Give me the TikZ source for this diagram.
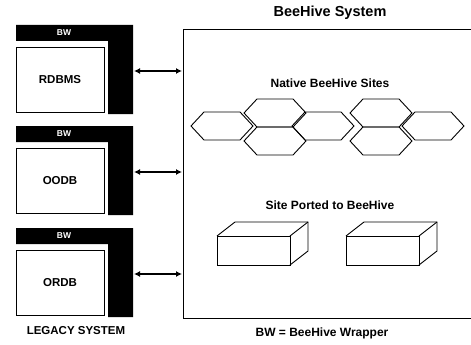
\documentclass[tikz,border=0pt]{standalone}
\usepackage{fontspec}
\setsansfont{Liberation Sans}
\usepackage{tikz}
\usetikzlibrary{calc}
\usetikzlibrary{arrows.meta}

\tikzset{
  lbl/.style={font=\sffamily\bfseries\fontsize{11.5}{13}\selectfont},
  bwlbl/.style={font=\sffamily\bfseries\fontsize{8.5}{10}\selectfont, text=white},
  dbbox/.style={draw, fill=white, line width=0.9pt},
  site/.style={draw, line width=0.9pt},
  link/.style={{Latex[length=6pt,width=6pt]}-{Latex[length=6pt,width=6pt]}, line width=1.3pt}
}

\begin{document}
\begin{tikzpicture}[x=1pt,y=-1pt]
  \useasboundingbox (0,0) rectangle (471,345);
  % legacy databases with their wrappers
  \foreach \t/\n/\db in {25/a/RDBMS,126/b/OODB,228/c/ORDB} {
    \fill (16,\t) -- (133,\t) -- (133,\t+89) -- (108,\t+89) -- (108,\t+16) -- (16,\t+16) -- cycle;
    \node[bwlbl] (bw\n) at (64,\t+8) {BW};
    \draw[dbbox] (16,\t+22) rectangle (104,\t+87);
    \node[lbl] (db\n) at (60,\t+55) {\db};
    \coordinate (w\n) at (134,\t+46);
    \coordinate (s\n) at (182,\t+46);
    \draw[link] (w\n) -- (s\n);
  }
  \node[lbl, font=\sffamily\bfseries\fontsize{11.5}{13}\selectfont] (legacy) at (76,331) {LEGACY SYSTEM};

  % beehive system box (open on the right)
  \draw[line width=0.9pt] (472,29) -- (183,29) -- (183,318) -- (472,318);
  \node[lbl, font=\sffamily\bfseries\fontsize{14.5}{16}\selectfont] (title) at (330,13) {BeeHive System};
  \node[lbl, font=\sffamily\bfseries\fontsize{12}{14}\selectfont] (native) at (330,83) {Native BeeHive Sites};
  \node[lbl, font=\sffamily\bfseries\fontsize{12}{14}\selectfont] (ported) at (330,205) {Site Ported to BeeHive};
  \node[lbl, font=\sffamily\bfseries\fontsize{12}{14}\selectfont] (key) at (322,333) {BW = BeeHive Wrapper};

  % native sites
  \foreach \cx/\cy in {222/126,275/113,275/141,323/126,381/113,381/141,433/126}
    \draw[site] (\cx-31,\cy) -- (\cx-18,\cy-14) -- (\cx+18,\cy-14) -- (\cx+31,\cy)
      -- (\cx+18,\cy+14) -- (\cx-18,\cy+14) -- cycle;

  % ported sites
  \foreach \x in {217,346} {
    \draw[site] (\x,236) rectangle (\x+73,265);
    \draw[site] (\x,236) -- (\x+18,222) -- (\x+91,222) -- (\x+91,251) -- (\x+73,265);
    \draw[site] (\x+73,236) -- (\x+91,222);
  }
\end{tikzpicture}
\end{document}
